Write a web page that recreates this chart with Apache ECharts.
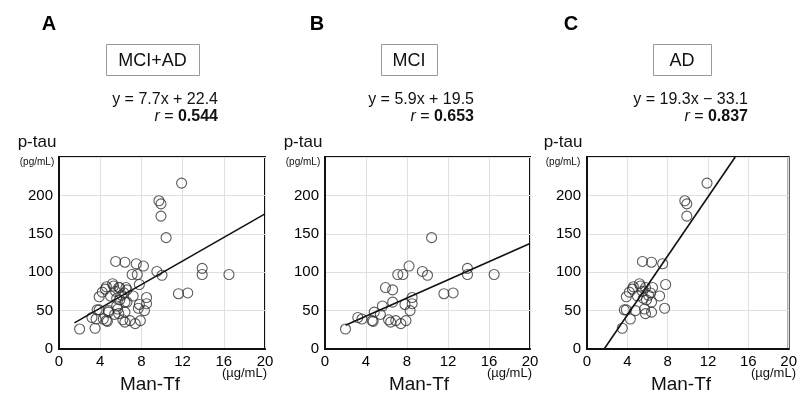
<!DOCTYPE html>
<html>
<head>
<meta charset="utf-8">
<script src="https://cdn.jsdelivr.net/npm/echarts@6/dist/echarts.min.js"></script>
<style>
  html, body { margin: 0; background: #fff; }
  #chart { width: 800px; height: 394px; }
</style>
</head>
<body>
<div id="chart"></div>
<script>
// panel texts
const panelLetters = ["A", "B", "C"];
const groupNames = ["MCI+AD", "MCI", "AD"];
const equations = ["y = 7.7x + 22.4", "y = 5.9x + 19.5", "y = 19.3x \u2212 33.1"];
const rValues = ["0.544", "0.653", "0.837"];

// axis ticks
const xTicks = [0, 4, 8, 12, 16, 20];
const yTicks = [0, 50, 100, 150, 200];

// Man-Tf (µg/mL), p-tau (pg/mL)
const mciPoints = [
  [2.0, 26], [3.2, 41], [3.6, 39], [4.6, 37], [4.7, 36], [4.8, 48],
  [5.4, 45], [5.6, 56], [5.9, 80], [6.6, 77], [6.6, 61], [6.2, 38],
  [6.4, 35], [6.9, 37], [7.4, 33], [7.9, 37], [7.1, 97], [7.6, 97],
  [8.2, 108], [7.8, 58], [8.5, 59], [8.5, 67], [8.3, 50], [9.5, 101],
  [10.0, 96], [10.4, 145], [11.6, 72], [12.5, 73], [13.9, 105],
  [13.9, 97], [16.5, 97]
];
const adPoints = [
  [3.5, 27], [4.3, 39], [3.7, 51], [3.9, 51], [4.8, 50], [5.7, 52],
  [5.8, 46], [6.4, 48], [7.7, 53], [3.9, 68], [4.2, 74], [4.5, 78],
  [4.6, 81], [5.0, 69], [5.2, 85], [5.3, 82], [5.5, 75], [5.8, 80],
  [5.6, 66], [5.9, 64], [6.1, 70], [6.3, 73], [6.5, 80], [6.4, 61],
  [7.2, 69], [7.8, 84], [5.5, 114], [6.4, 113], [7.5, 111],
  [9.7, 193], [9.9, 189], [9.9, 173], [11.9, 216]
];
const allPoints = mciPoints.concat(adPoints);

// regression line ends
const fitAll = [[1.5, 34], [20, 176]];
const fitMci = [[2.0, 31], [20, 137.5]];
const fitAd = [[1.7, 0], [14.7, 250]];

const pointSets = [allPoints, mciPoints, adPoints];
const fitSets = [fitAll, fitMci, fitAd];

// layout
const grids = [
  { left: 59, top: 157, width: 206, height: 192 },
  { left: 325, top: 157, width: 205, height: 192 },
  { left: 587, top: 157, width: 207, height: 192 }
];
const letterX = [49, 317, 571];
const boxX = [106, 381, 653];
const boxW = [93, 56, 58];
const eqRight = [218, 474, 748];
const yNameX = [37, 303, 563];
const xNameX = [150, 419, 681];

const FONT = "'Liberation Sans', Arial, sans-serif";
const chart = echarts.init(document.getElementById("chart"));

const xAxis = [], yAxis = [], series = [], graphic = [];

grids.forEach((g, i) => {
  xAxis.push({
    type: "value", gridIndex: i, min: 0, max: 20, interval: 4,
    axisLine: { show: true, lineStyle: { color: "#111", width: 2 } },
    axisTick: { show: false },
    splitLine: { show: true, lineStyle: { color: "#e0e0e0", width: 1 } },
    axisLabel: { color: "#000", fontSize: 15, fontFamily: FONT, margin: 5 }
  });
  yAxis.push({
    type: "value", gridIndex: i, min: 0, max: 250, interval: 50,
    axisLine: { show: true, lineStyle: { color: "#111", width: 2 } },
    axisTick: { show: false },
    splitLine: { show: true, lineStyle: { color: "#e0e0e0", width: 1 } },
    axisLabel: {
      color: "#000", fontSize: 15, fontFamily: FONT, margin: 6,
      formatter: v => (yTicks.indexOf(v) >= 0 ? String(v) : "")
    }
  });
  series.push({
    type: "scatter", xAxisIndex: i, yAxisIndex: i,
    data: pointSets[i], symbol: "circle", symbolSize: 10,
    itemStyle: { color: "rgba(0,0,0,0)", borderColor: "#333", borderWidth: 1.1 },
    silent: true, z: 3
  });
  series.push({
    type: "line", xAxisIndex: i, yAxisIndex: i,
    data: fitSets[i], symbol: "none",
    lineStyle: { color: "#111", width: 1.6 },
    silent: true, z: 4
  });

  graphic.push({
    type: "text",
    style: {
      text: panelLetters[i], x: letterX[i], y: 24,
      font: "bold 20px " + FONT, fill: "#000",
      align: "center", verticalAlign: "middle",
      textAlign: "center", textVerticalAlign: "middle"
    }
  });
  graphic.push({
    type: "rect",
    shape: { x: boxX[i] + 0.5, y: 44.5, width: boxW[i], height: 31 },
    style: { fill: "#fff", stroke: "#999", lineWidth: 1 }
  });
  graphic.push({
    type: "text",
    style: {
      text: groupNames[i], x: boxX[i] + boxW[i] / 2, y: 61,
      font: "18px " + FONT, fill: "#111",
      align: "center", verticalAlign: "middle",
      textAlign: "center", textVerticalAlign: "middle"
    }
  });
  graphic.push({
    type: "text",
    style: {
      text: equations[i], x: eqRight[i], y: 100,
      font: "16px " + FONT, fill: "#111",
      align: "right", verticalAlign: "middle",
      textAlign: "right", textVerticalAlign: "middle"
    }
  });
  graphic.push({
    type: "text",
    style: {
      text: "{i|r} = {b|" + rValues[i] + "}", x: eqRight[i], y: 117,
      font: "16px " + FONT, fill: "#111",
      align: "right", verticalAlign: "middle",
      textAlign: "right", textVerticalAlign: "middle",
      rich: {
        i: { fontStyle: "italic", fontSize: 16, fontFamily: FONT, fill: "#111" },
        b: { fontWeight: "bold", fontSize: 16, fontFamily: FONT, fill: "#111" }
      }
    }
  });
  graphic.push({
    type: "text",
    style: {
      text: "p-tau", x: yNameX[i], y: 142,
      font: "17px " + FONT, fill: "#111",
      align: "center", verticalAlign: "middle",
      textAlign: "center", textVerticalAlign: "middle"
    }
  });
  graphic.push({
    type: "text",
    style: {
      text: "(pg/mL)", x: yNameX[i], y: 162,
      font: "10px " + FONT, fill: "#111",
      align: "center", verticalAlign: "middle",
      textAlign: "center", textVerticalAlign: "middle"
    }
  });
  graphic.push({
    type: "text",
    style: {
      text: "Man-Tf", x: xNameX[i], y: 385,
      font: "19px " + FONT, fill: "#111",
      align: "center", verticalAlign: "middle",
      textAlign: "center", textVerticalAlign: "middle"
    }
  });
  graphic.push({
    type: "text",
    style: {
      text: "(\u00b5g/mL)", x: g.left + g.width + 2, y: 373,
      font: "13px " + FONT, fill: "#111",
      align: "right", verticalAlign: "middle",
      textAlign: "right", textVerticalAlign: "middle"
    }
  });
});

chart.setOption({
  animation: false,
  backgroundColor: "#fff",
  grid: grids.map(g => Object.assign({
    show: true, borderColor: "#111", borderWidth: 2, backgroundColor: "transparent"
  }, g)),
  xAxis: xAxis,
  yAxis: yAxis,
  series: series,
  graphic: graphic
});
</script>
</body>
</html>
